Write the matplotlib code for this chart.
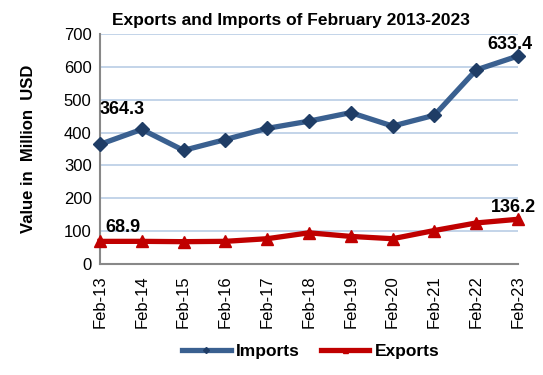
import matplotlib
matplotlib.use("Agg")
import matplotlib.pyplot as plt

categories = ["Feb-13", "Feb-14", "Feb-15", "Feb-16", "Feb-17", "Feb-18",
              "Feb-19", "Feb-20", "Feb-21", "Feb-22", "Feb-23"]
imports = [364.3, 410, 346, 379, 413, 435, 461, 420, 453, 591, 633.4]
exports = [68.9, 69, 68, 69, 77, 95, 84, 77, 102, 125, 136.2]
yticks = [0, 100, 200, 300, 400, 500, 600, 700]

plt.rcParams['font.family'] = ['Liberation Sans', 'DejaVu Sans']

fig = plt.figure(figsize=(5.43, 3.75), dpi=100)
ax = fig.add_axes([0.184, 0.296, 0.770, 0.613])
x = list(range(len(categories)))

ax.plot(x, imports, color="#3A6090", lw=3.8, marker="D", ms=7.5,
        mfc="#1F3D66", mec="#1F3D66", label="Imports", clip_on=False, zorder=3)
ax.plot(x, exports, color="#C00000", lw=3.8, marker="^", ms=9,
        mfc="#C00000", mec="#C00000", label="Exports", clip_on=False, zorder=3)

ax.set_xlim(0, len(categories) - 1)
ax.set_ylim(0, 700)
ax.set_yticks(yticks)
ax.set_yticklabels([str(v) for v in yticks], fontsize=12)
ax.set_xticks(x)
ax.set_xticklabels(categories, rotation=90, fontsize=12)
ax.tick_params(axis='both', length=0, pad=6)
ax.tick_params(axis='x', pad=8)
ax.yaxis.grid(True, color="#B9CDE5", lw=1.2)
ax.set_axisbelow(True)
for s in ["top", "right"]:
    ax.spines[s].set_visible(False)
for s in ["left", "bottom"]:
    ax.spines[s].set_color("#888888")
    ax.spines[s].set_linewidth(1.5)

ax.set_ylabel("Value in  Million  USD", fontsize=12, fontweight="bold", labelpad=20)
fig.text(0.536, 0.945, "Exports and Imports of February 2013-2023", fontsize=12.5,
         fontweight="bold", ha="center", va="center")

ax.annotate(f"{imports[0]}", (x[0], imports[0]), xytext=(0, 22),
            textcoords="offset points", ha="left", fontsize=13, fontweight="bold")
ax.annotate(f"{imports[-1]}", (x[-1], imports[-1]), xytext=(-6, 5),
            textcoords="offset points", ha="center", fontsize=13, fontweight="bold")
ax.annotate(f"{exports[0]}", (x[0], exports[0]), xytext=(4, 7),
            textcoords="offset points", ha="left", fontsize=13, fontweight="bold")
ax.annotate(f"{exports[-1]}", (x[-1], exports[-1]), xytext=(-3, 5),
            textcoords="offset points", ha="center", fontsize=13, fontweight="bold")

leg = fig.legend(loc="center", bbox_to_anchor=(0.572, 0.063), ncol=2, frameon=False,
                 prop={"size": 12.5, "weight": "bold"}, handlelength=2.8,
                 handletextpad=0.3, columnspacing=1.2, markerscale=0.4)

fig.savefig("out.png", dpi=100)
